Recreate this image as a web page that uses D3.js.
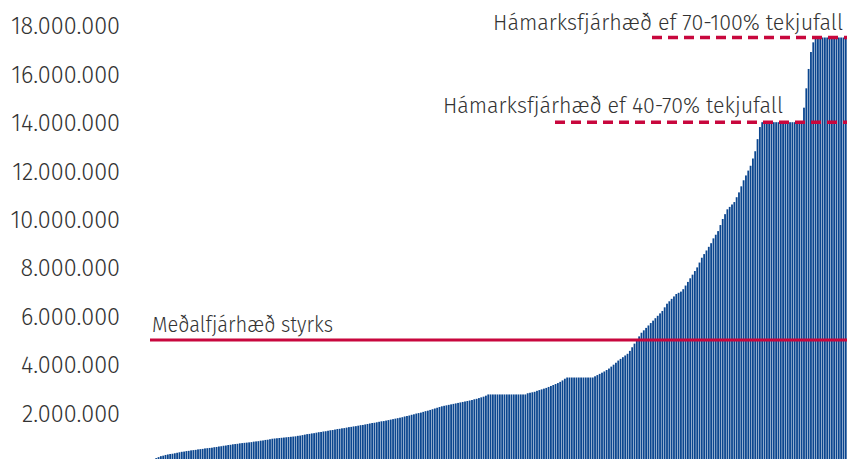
<!DOCTYPE html>
<html><head><meta charset="utf-8">
<script src="https://cdn.jsdelivr.net/npm/d3@7/dist/d3.min.js"></script>
<style>html,body{margin:0;padding:0;background:#fff}svg{display:block}</style>
</head><body>
<svg id="c" width="847" height="459"></svg>
<script>
// Grant amounts (millions ISK), sorted ascending, one per recipient
const values = [
0.08,0.12,0.16,0.2,0.22,0.25,0.27,0.29,0.3,0.32,0.34,0.36,0.38,0.39,0.41,0.42,0.44,0.45,0.46,0.48,0.49,
0.5,0.52,0.53,0.54,0.55,0.57,0.58,0.6,0.61,0.63,0.64,0.66,0.67,0.69,0.7,0.71,0.73,0.74,0.75,0.76,
0.77,0.78,0.8,0.81,0.82,0.84,0.85,0.87,0.88,0.9,0.92,0.93,0.94,0.95,0.96,0.97,0.98,0.99,1.0,1.01,
1.02,1.04,1.05,1.07,1.09,1.11,1.12,1.14,1.15,1.17,1.19,1.2,1.22,1.23,1.25,1.27,1.28,1.3,1.32,1.33,
1.35,1.36,1.38,1.4,1.41,1.43,1.44,1.46,1.48,1.49,1.51,1.53,1.55,1.57,1.58,1.6,1.62,1.64,1.65,1.67,1.69,1.71,1.73,1.75,1.77,
1.79,1.81,1.84,1.86,1.88,1.91,1.93,1.96,1.98,2.0,2.03,2.06,2.08,2.11,2.14,2.17,2.2,2.23,
2.26,2.28,2.3,2.32,2.34,2.36,2.38,2.4,2.42,2.44,2.46,2.48,2.5,2.52,2.55,2.57,2.6,2.63,2.66,2.7,
2.75,2.75,2.75,2.75,2.75,2.75,2.75,2.75,2.75,2.75,2.75,2.75,2.75,2.75,2.75,2.75,2.75,
2.8,2.82,2.84,2.86,2.9,2.93,2.96,2.99,3.02,3.06,3.1,3.14,3.18,3.22,3.27,3.33,3.4,
3.45,3.45,3.45,3.45,3.45,3.45,3.45,3.45,3.45,3.45,3.45,3.45,
3.5,3.55,3.6,3.65,3.7,3.76,3.82,3.9,3.98,4.06,4.15,4.22,4.29,4.36,4.43,4.55,4.7,4.85,
5.0,5.15,5.3,5.4,5.5,5.6,5.7,5.8,5.9,6.0,6.1,6.2,6.35,6.5,6.6,6.7,6.8,6.9,6.95,7.0,
7.1,7.25,7.4,7.55,7.7,7.85,8.0,8.2,
8.4,8.55,8.7,8.85,9.0,9.2,9.35,9.5,9.75,10.0,10.2,10.4,10.5,10.6,10.7,10.9,11.1,11.35,11.6,11.8,12.0,12.2,12.5,12.8,13.3,13.8,
14,14,14,14,14,14,14,14,14,14,14,14,14,14,14,14,14,14,
14.6,15.4,16.2,16.9,17.3,
17.5,17.5,17.5,17.5,17.5,17.5,17.5,17.5,17.5,17.5,17.5,17.5,17.5,17.5,17.5
];
const yTicks = [2,4,6,8,10,12,14,16,18];
const tickLabels = ["2.000.000","4.000.000","6.000.000","8.000.000","10.000.000","12.000.000","14.000.000","16.000.000","18.000.000"];
const refLines = [
  {value: 5, label: "Meðalfjárhæð styrks", dashed: false},
  {value: 14, label: "Hámarksfjárhæð ef 40-70% tekjufall", dashed: true},
  {value: 17.5, label: "Hámarksfjárhæð ef 70-100% tekjufall", dashed: true}
];

const svg = d3.select("#c");
const x = d3.scaleBand().domain(d3.range(values.length)).range([153, 849]).paddingInner(0.22).paddingOuter(0);
const y = d3.scaleLinear().domain([0, 18]).range([461, 25.4]);
const FONT = "'Fira Sans', 'Open Sans', 'Noto Sans', sans-serif";
const RED = "#c8073d";

svg.append("g").selectAll("rect").data(values).join("rect")
  .attr("x", (d,i) => x(i)).attr("width", x.bandwidth())
  .attr("y", d => y(d)).attr("height", d => y(0) - y(d))
  .attr("fill", "#0b468f");

const axis = d3.axisLeft(y).tickValues(yTicks).tickFormat((d,i) => tickLabels[i]).tickSize(0).tickPadding(0);
const ag = svg.append("g").attr("transform", "translate(120,0)").call(axis);
ag.select(".domain").remove();
ag.selectAll("text").attr("font-family", FONT).attr("font-size", 23.5).attr("fill", "#333").attr("font-weight", 300)
  .attr("dy", "0.36em");

// reference lines
const lineSpec = [
  {x1: 150, x2: 847, tx: 152, anchor: "start", ty: -8},
  {x1: 555, x2: 847, tx: 783, anchor: "end", ty: -9},
  {x1: 652, x2: 847, tx: 843, anchor: "end", ty: -8}
];
const textWidths = [181, 340, 350];
refLines.forEach((r, i) => {
  const s = lineSpec[i];
  svg.append("line").attr("x1", s.x1).attr("x2", s.x2).attr("y1", y(r.value)).attr("y2", y(r.value))
    .attr("stroke", RED).attr("stroke-width", r.dashed ? 3.5 : 3)
    .attr("stroke-dasharray", r.dashed ? "10,6" : null);
  svg.append("text").attr("x", s.tx).attr("y", y(r.value) + s.ty).attr("text-anchor", s.anchor)
    .attr("font-family", FONT).attr("font-size", 21.5).attr("font-weight", 300).attr("fill", "#333")
    .attr("textLength", textWidths[i]).attr("lengthAdjust", "spacingAndGlyphs")
    .text(r.label);
});
</script>
</body></html>
